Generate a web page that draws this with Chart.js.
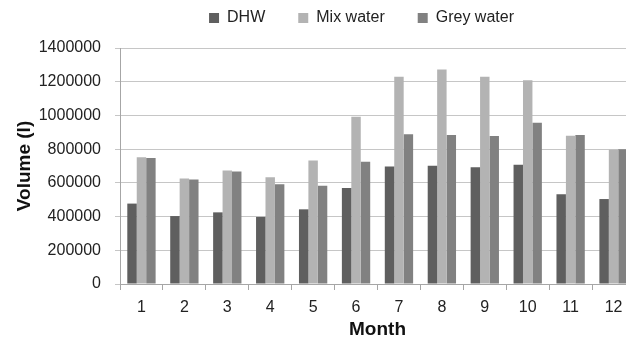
<!DOCTYPE html>
<html>
<head>
<meta charset="utf-8">
<script src="https://cdn.jsdelivr.net/npm/chart.js@4"></script>
<style>
  html, body { margin: 0; padding: 0; background: #fff; overflow: hidden; }
  #wrap { width: 640px; height: 339px; }
</style>
</head>
<body>
<div id="wrap"><canvas id="volChart" width="640" height="339"></canvas></div>
<script>
// Données
const months = ["1", "2", "3", "4", "5", "6", "7", "8", "9", "10", "11", "12"];
const dhw = [477000, 403000, 425000, 398000, 443000, 569000, 697000, 701000, 693000, 707000, 533000, 504000];
const mixWater = [752000, 626000, 673000, 634000, 732000, 992000, 1229000, 1272000, 1229000, 1209000, 880000, 797000];
const greyWater = [748000, 620000, 667000, 591000, 583000, 725000, 888000, 884000, 878000, 957000, 884000, 799000];
const yTicks = [0, 200000, 400000, 600000, 800000, 1000000, 1200000, 1400000];

const police = "'Liberation Sans', Arial, sans-serif";

// la légende est plus haute et un peu à gauche dans l'original
const decalerLegende = {
  id: "decalerLegende",
  afterLayout(chart) {
    const l = chart.legend;
    l.top -= 12; l.bottom -= 12;
    l.left -= 16; l.right -= 16;
  }
};

const ctx = document.getElementById("volChart").getContext("2d");
new Chart(ctx, {
  type: "bar",
  data: {
    labels: months,
    datasets: [
      { label: "DHW", data: dhw, backgroundColor: "#5f5f5f" },
      { label: "Mix water", data: mixWater, backgroundColor: "#b3b3b3" },
      { label: "Grey water", data: greyWater, backgroundColor: "#818181" }
    ]
  },
  plugins: [decalerLegende],
  options: {
    responsive: false,
    animation: false,
    categoryPercentage: 0.66,
    barPercentage: 1.0,
    layout: { padding: { left: 13, right: 5, top: -11, bottom: 0 } },
    plugins: {
      tooltip: { enabled: false },
      legend: {
        position: "top",
        fullSize: false,
        labels: {
          font: { family: police, size: 16 },
          color: "#222",
          boxWidth: 10,
          boxHeight: 10,
          padding: 33
        }
      }
    },
    scales: {
      x: {
        grid: { offset: true, drawOnChartArea: false, drawTicks: true, tickLength: 6, color: "#a6a6a6" },
        border: { color: "#a6a6a6" },
        ticks: { font: { family: police, size: 16 }, color: "#222", padding: 8 },
        title: { display: true, text: "Month", font: { family: police, size: 19, weight: "bold" }, color: "#111", padding: { top: 0, bottom: -2 } },
        afterFit: (scale) => { scale.height = 55; }
      },
      y: {
        min: 0,
        max: 1400000,
        afterBuildTicks: (scale) => { scale.ticks = yTicks.map(v => ({ value: v })); },
        grid: { color: "#c6c6c6", tickLength: 5 },
        border: { color: "#a6a6a6" },
        ticks: { font: { family: police, size: 16 }, color: "#222", padding: 14, callback: (v) => String(v) },
        title: { display: true, text: "Volume (l)", font: { family: police, size: 19, weight: "bold" }, color: "#111", padding: 0 },
        afterFit: (scale) => { scale.width = 107; }
      }
    }
  }
});
</script>
</body>
</html>
